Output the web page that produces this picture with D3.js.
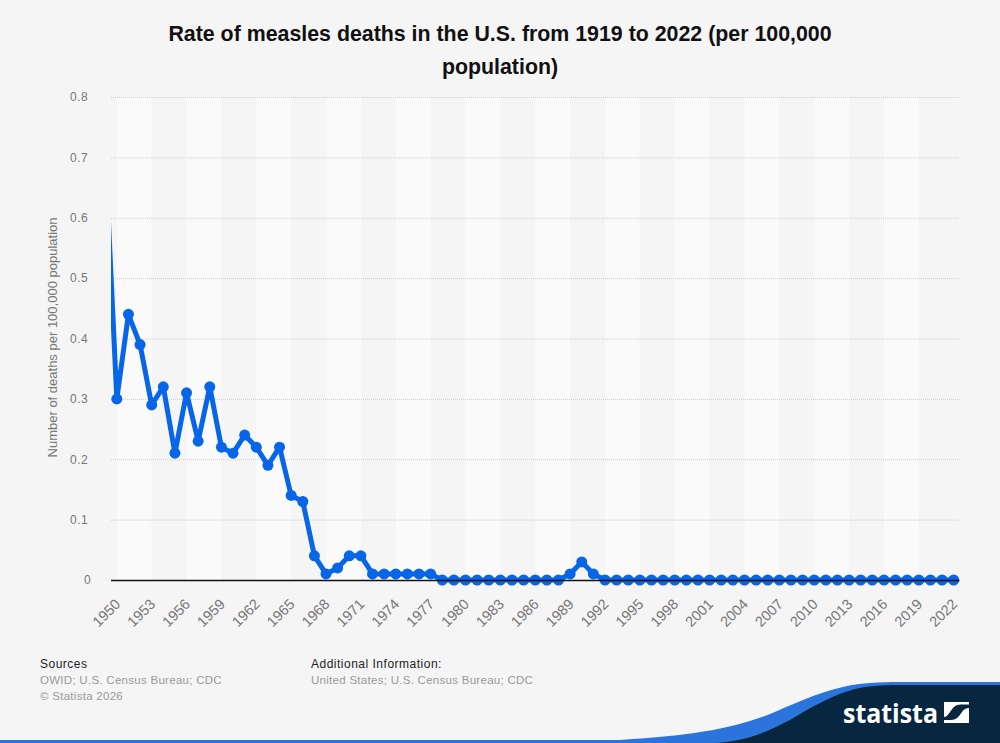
<!DOCTYPE html>
<html>
<head>
<meta charset="utf-8">
<script src="https://cdn.jsdelivr.net/npm/d3@7"></script>
<style>
html, body { margin: 0; padding: 0; background: #f5f5f5; }
svg { display: block; font-family: "Liberation Sans", Arial, sans-serif; }
</style>
</head>
<body>
<svg id="chart" width="1000" height="743"></svg>
<script>
// Measles death rate per 100,000 population, by year
const years = d3.range(1949, 2023);
const deathRates = [
  0.71,
  0.3, 0.44, 0.39, 0.29, 0.32, 0.21, 0.31, 0.23, 0.32, 0.22,
  0.21, 0.24, 0.22, 0.19, 0.22, 0.14, 0.13, 0.04, 0.01, 0.02,
  0.04, 0.04, 0.01, 0.01, 0.01, 0.01, 0.01, 0.01, 0, 0,
  0, 0, 0, 0, 0, 0, 0, 0, 0, 0.01,
  0.03, 0.01, 0, 0, 0, 0, 0, 0, 0, 0,
  0, 0, 0, 0, 0, 0, 0, 0, 0, 0,
  0, 0, 0, 0, 0, 0, 0, 0, 0, 0,
  0, 0, 0
];
const yTicks = [0, 0.1, 0.2, 0.3, 0.4, 0.5, 0.6, 0.7, 0.8];
const xTicks = d3.range(1950, 2023, 3);

const titleLines = [
  "Rate of measles deaths in the U.S. from 1919 to 2022 (per 100,000",
  "population)"
];
const yAxisTitle = "Number of deaths per 100,000 population";

const plot = { left: 111, right: 959.5, top: 97, bottom: 580 };
const lineColor = "#0766e8";

const svg = d3.select("#chart");
const x = d3.scaleLinear().domain([1949.5, 2022.5]).range([plot.left, plot.right]);
const y = d3.scaleLinear().domain([0, 0.8]).range([plot.bottom, plot.top]);

svg.append("rect").attr("width", 1000).attr("height", 743).attr("fill", "#f5f5f5");

// Alternating bands between every other pair of ticks
svg.append("g").selectAll("rect")
  .data(xTicks.slice(0, -1).filter((d, i) => i % 2 === 0))
  .join("rect")
  .attr("x", d => x(d))
  .attr("y", plot.top)
  .attr("width", d => x(d + 3) - x(d))
  .attr("height", plot.bottom - plot.top)
  .attr("fill", "#fafafa");

// Dotted horizontal grid
svg.append("g").selectAll("line")
  .data(yTicks.filter(d => d > 0))
  .join("line")
  .attr("x1", plot.left).attr("x2", plot.right)
  .attr("y1", d => y(d) + 0.5).attr("y2", d => y(d) + 0.5)
  .attr("stroke", "#cccccc")
  .attr("stroke-width", 1)
  .attr("stroke-dasharray", "1 1");

// Y axis
const yAxis = svg.append("g")
  .attr("transform", `translate(${plot.left},0)`)
  .call(d3.axisLeft(y).tickValues(yTicks).tickSize(0).tickPadding(23)
    .tickFormat(d => d === 0 ? "0" : d3.format(".1f")(d)));
yAxis.select(".domain").remove();
yAxis.selectAll("text")
  .attr("fill", "#777777")
  .attr("font-size", 12)
  .attr("letter-spacing", "0.4px")
  .attr("dx", d => d === 0 ? 3 : 0);

svg.append("text")
  .attr("transform", `translate(57,${(plot.top + plot.bottom) / 2 - 1}) rotate(-90)`)
  .attr("text-anchor", "middle")
  .attr("fill", "#777777")
  .attr("font-size", 13)
  .text(yAxisTitle);

// Series, clipped to the plot so the 1949 segment is cut at the left edge
svg.append("clipPath").attr("id", "plot-clip")
  .append("rect")
  .attr("x", plot.left).attr("y", plot.top - 10)
  .attr("width", plot.right - plot.left).attr("height", plot.bottom - plot.top + 20);

const seriesG = svg.append("g").attr("clip-path", "url(#plot-clip)");
const series = years.map((yr, i) => ({ yr, v: deathRates[i] }));
seriesG.append("path")
  .datum(series)
  .attr("fill", "none")
  .attr("stroke", lineColor)
  .attr("stroke-width", 5)
  .attr("stroke-linejoin", "round")
  .attr("d", d3.line().x(d => x(d.yr)).y(d => y(d.v)));
seriesG.selectAll("circle")
  .data(series.filter(d => d.yr >= 1950))
  .join("circle")
  .attr("cx", d => x(d.yr))
  .attr("cy", d => y(d.v))
  .attr("r", 5.5)
  .attr("fill", lineColor);

// Baseline and X axis labels
const xAxis = svg.append("g")
  .attr("transform", `translate(0,${plot.bottom})`)
  .call(d3.axisBottom(x).tickValues(xTicks).tickSize(0).tickFormat(d3.format("d")));
xAxis.select(".domain").remove();
xAxis.append("line").attr("x1", plot.left).attr("x2", plot.right)
  .attr("y1", 0.5).attr("y2", 0.5).attr("stroke", "#111").attr("stroke-width", 1.5);
xAxis.selectAll(".tick text")
  .attr("fill", "#777777")
  .attr("font-size", 14.5)
  .attr("text-anchor", "end")
  .attr("dy", 0)
  .attr("y", 0)
  .attr("transform", "translate(4,25) rotate(-45)");

// Title
svg.append("g").selectAll("text")
  .data(titleLines)
  .join("text")
  .attr("x", 500)
  .attr("y", (d, i) => 41 + i * 33)
  .attr("text-anchor", "middle")
  .attr("font-size", 21.35)
  .attr("font-weight", "bold")
  .attr("fill", "#111")
  .text(d => d);

// Footer notes
const footer = [
  { x: 40, y: 668, t: "Sources", c: "#222", s: 12, ls: 0.5 },
  { x: 40, y: 684, t: "OWID; U.S. Census Bureau; CDC", c: "#999999", s: 11.5, ls: 0.28 },
  { x: 40, y: 700, t: "© Statista 2026", c: "#999999", s: 11.5, ls: 0.28 },
  { x: 311, y: 668, t: "Additional Information:", c: "#222", s: 12, ls: 0.5 },
  { x: 311, y: 684, t: "United States; U.S. Census Bureau; CDC", c: "#999999", s: 11.5, ls: 0.28 }
];
svg.append("g").selectAll("text")
  .data(footer)
  .join("text")
  .attr("x", d => d.x).attr("y", d => d.y)
  .attr("fill", d => d.c)
  .attr("font-size", d => d.s)
  .attr("letter-spacing", d => `${d.ls}px`)
  .text(d => d.t);

// Brand ribbon in the bottom corner
svg.append("path")
  .attr("d", "M0,740 L620,740 C690,736 730,729 765,716 C790,706 815,693 845,686.5 C860,683 880,682 900,682 L1000,682 L1000,743 L0,743 Z")
  .attr("fill", "#2b74dc");
svg.append("path")
  .attr("d", "M715,743 C750,741 770,730 790,720 C810,708 830,696 855,689 C868,686 880,685 900,685 L1000,685 L1000,743 Z")
  .attr("fill", "#06273f");

svg.append("text")
  .attr("x", 843).attr("y", 723)
  .attr("font-family", "'Open Sans', sans-serif")
  .attr("font-size", 27)
  .attr("font-weight", 700)
  .attr("textLength", 95)
  .attr("lengthAdjust", "spacingAndGlyphs")
  .attr("fill", "#ffffff")
  .text("statista");

// Logo mark
svg.append("path")
  .attr("d", "M944,702 H969 V704.5 H961 C955,704.5 953,708 950,712 C948,715 946,717 944,717 Z")
  .attr("fill", "#ffffff");
svg.append("path")
  .attr("d", "M969,708 V723 H944 V720 H951 C957,720 959,716 962,712 C964,709 966,708 969,708 Z")
  .attr("fill", "#ffffff");
</script>
</body>
</html>
